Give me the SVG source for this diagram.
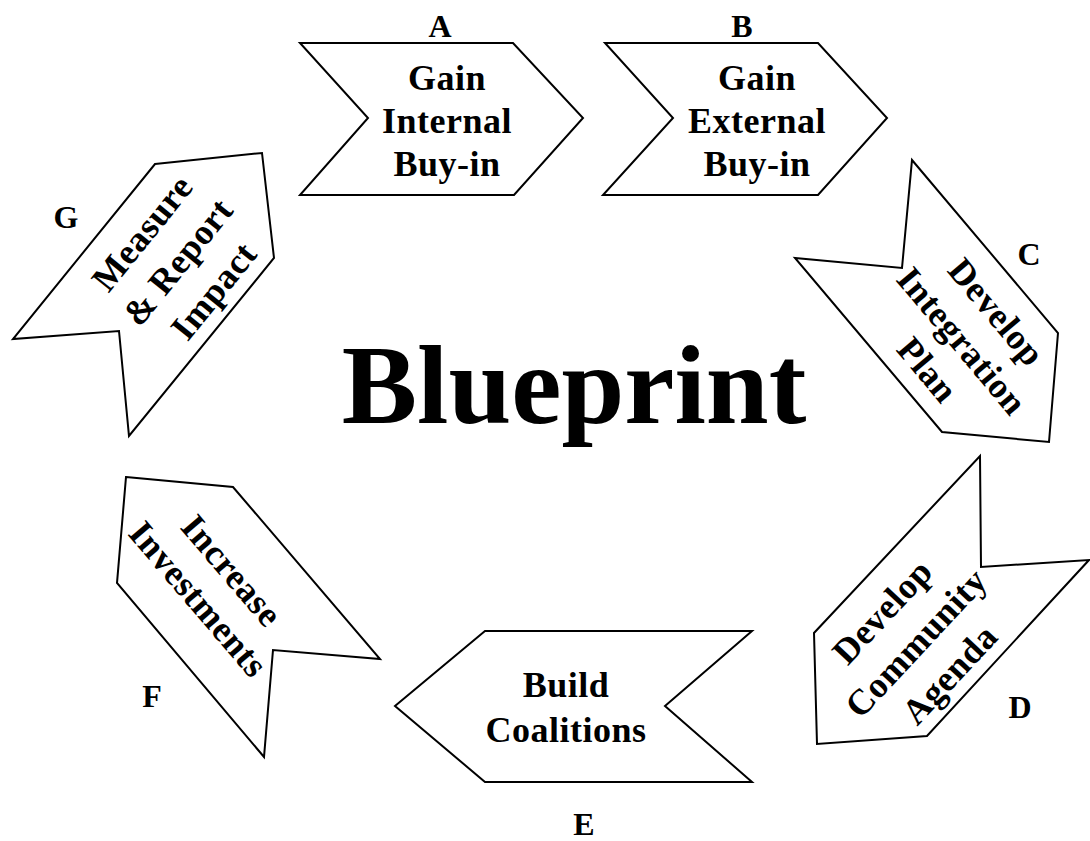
<svg xmlns="http://www.w3.org/2000/svg" width="1090" height="841" viewBox="0 0 1090 841">
  <style>
    .shape { fill: #ffffff; stroke: #000000; stroke-width: 2; stroke-linejoin: miter; }
    .step { font-family: "Liberation Serif", "Times New Roman", serif; font-weight: bold; font-size: 36px; letter-spacing: 0.5px; text-anchor: middle; fill: #000000; }
    .tag { font-family: "Liberation Serif", "Times New Roman", serif; font-weight: bold; font-size: 32px; text-anchor: middle; fill: #000000; }
    .title { font-family: "Liberation Serif", "Times New Roman", serif; font-weight: bold; font-size: 113px; text-anchor: middle; fill: #000000; }
  </style>

  <rect width="1090" height="841" fill="#ffffff"/>

  <!-- centre title -->
  <text class="title" x="574" y="423">Blueprint</text>

  <!-- A: internal buy-in -->
  <g id="node-a">
    <polygon class="shape" points="300,43 513,43 583,118 514,195 300,195 368,118"/>
    <text class="tag" x="440" y="37">A</text>
    <text class="step" x="447" y="90">Gain</text>
    <text class="step" x="447" y="133">Internal</text>
    <text class="step" x="447" y="176">Buy-in</text>
  </g>

  <!-- B: external buy-in -->
  <g id="node-b">
    <polygon class="shape" points="605,43 818,43 887,118 818,195 603,195 673,118"/>
    <text class="tag" x="742" y="37">B</text>
    <text class="step" x="757" y="90">Gain</text>
    <text class="step" x="757" y="133">External</text>
    <text class="step" x="757" y="176">Buy-in</text>
  </g>

  <!-- C: integration plan -->
  <g id="node-c">
    <polygon class="shape" points="912,160 1058,333 1049,442 942,432 795,258 902,268"/>
    <text class="tag" x="1029" y="265">C</text>
    <g transform="translate(962,341) rotate(50)">
      <text class="step" x="0" y="-33">Develop</text>
      <text class="step" x="0" y="12">Integration</text>
      <text class="step" x="0" y="57">Plan</text>
    </g>
  </g>

  <!-- D: community agenda -->
  <g id="node-d">
    <polygon class="shape" points="980,456 981,567 1089,560 927,736 817,744 814,633"/>
    <text class="tag" x="1020" y="718">D</text>
    <g transform="translate(916,643) rotate(-47)">
      <text class="step" x="0" y="-34">Develop</text>
      <text class="step" x="0" y="12">Community</text>
      <text class="step" x="0" y="58">Agenda</text>
    </g>
  </g>

  <!-- E: coalitions -->
  <g id="node-e">
    <polygon class="shape" points="485,631 752,631 665,706 752,782 485,782 395,706"/>
    <text class="tag" x="584" y="835">E</text>
    <text class="step" x="566" y="697">Build</text>
    <text class="step" x="566" y="742">Coalitions</text>
  </g>

  <!-- F: investments -->
  <g id="node-f">
    <polygon class="shape" points="126,477 233,487 380,659 273,650 264,757 117,583"/>
    <text class="tag" x="152" y="707">F</text>
    <g transform="translate(215,585) rotate(49.5)">
      <text class="step" x="0" y="-10">Increase</text>
      <text class="step" x="0" y="34">Investments</text>
    </g>
  </g>

  <!-- G: measure and report -->
  <g id="node-g">
    <polygon class="shape" points="155,164 262,153 274,258 129,436 119,331 13,339"/>
    <text class="tag" x="66" y="228">G</text>
    <g transform="translate(178,262) rotate(-51)">
      <text class="step" x="0" y="-34">Measure</text>
      <text class="step" x="0" y="12">&amp; Report</text>
      <text class="step" x="0" y="58">Impact</text>
    </g>
  </g>
</svg>
